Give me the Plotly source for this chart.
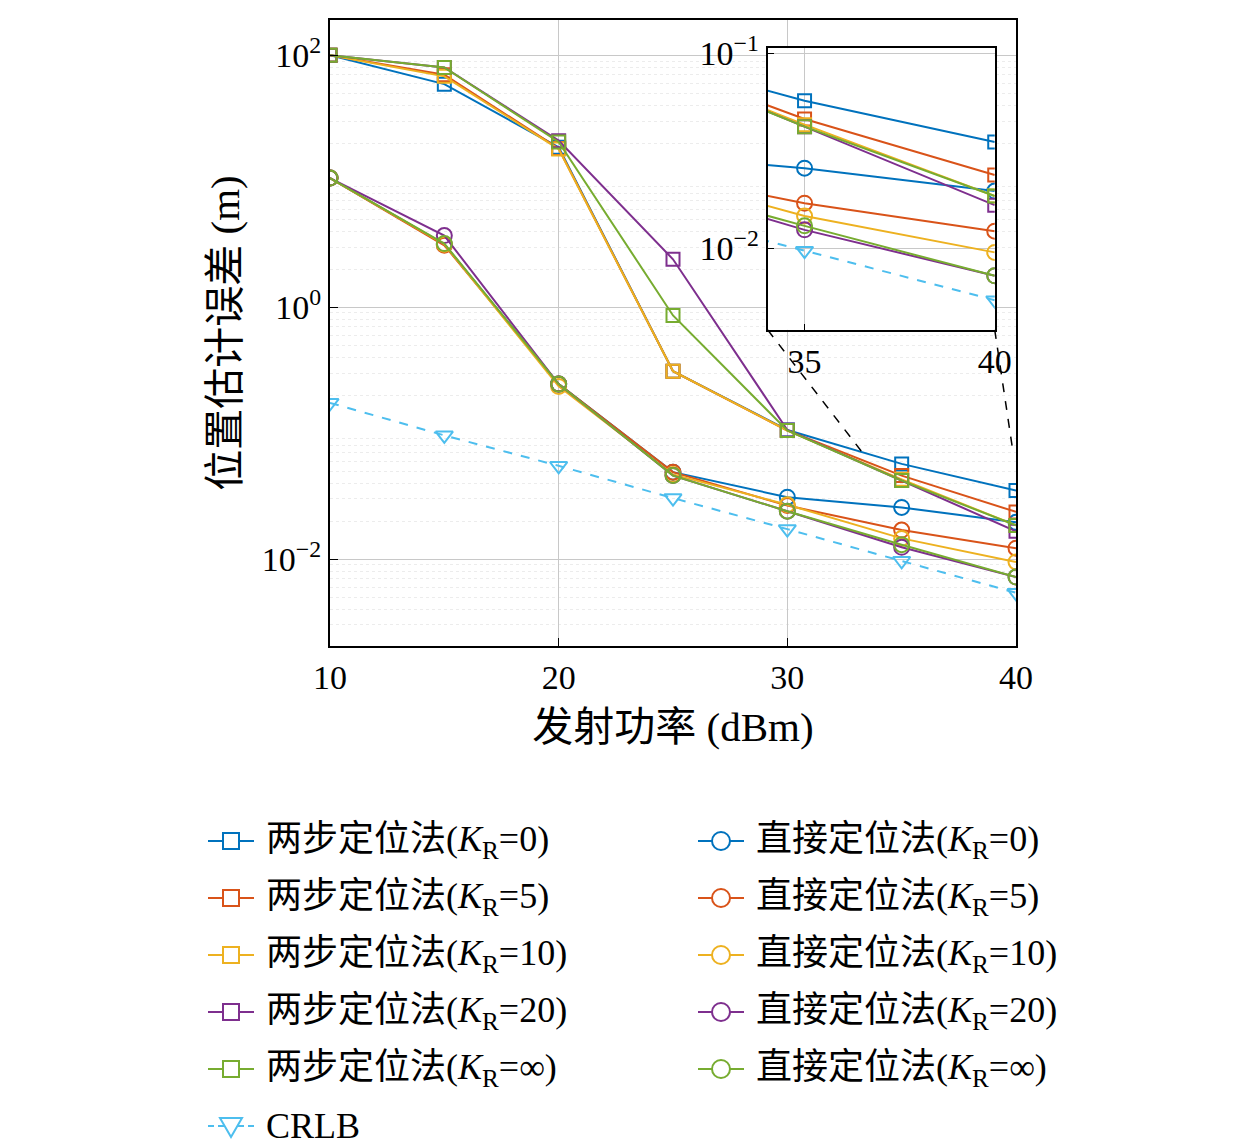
import plotly.graph_objects as go

power = [10, 15, 20, 25, 30, 35, 40]
colors = {"0": "#0072BD", "5": "#D95319", "10": "#EDB120", "20": "#7E2F8E", "∞": "#77AC30"}
crlb_color = "#4DBEEE"

# two-step (squares) and direct (circles) position error, m
two_step = {
    "0": [100, 59, 18.6, 0.31, 0.106, 0.057, 0.035],
    "5": [100, 70, 18.2, 0.31, 0.105, 0.046, 0.0237],
    "10": [100, 68, 18.0, 0.31, 0.105, 0.043, 0.0185],
    "20": [100, 80, 21, 2.4, 0.106, 0.042, 0.0166],
    "∞": [100, 80, 20.5, 0.86, 0.105, 0.042, 0.0185],
}
direct = {
    "0": [10.6, 3.16, 0.245, 0.049, 0.031, 0.0257, 0.0196],
    "5": [10.6, 3.1, 0.245, 0.049, 0.0266, 0.017, 0.0122],
    "10": [10.6, 3.16, 0.235, 0.047, 0.027, 0.0146, 0.0095],
    "20": [10.6, 3.7, 0.245, 0.046, 0.024, 0.0124, 0.0072],
    "∞": [10.6, 3.2, 0.245, 0.046, 0.024, 0.013, 0.0072],
}
crlb = [0.174, 0.096, 0.055, 0.0305, 0.0173, 0.0097, 0.0054]

font = "Liberation Serif, Noto Sans CJK SC"
fig = go.Figure()


def add_series(xa, ya):
    for k in colors:
        for data, sym in [(two_step, "square-open"), (direct, "circle-open")]:
            fig.add_trace(go.Scatter(
                x=power, y=data[k], xaxis=xa, yaxis=ya, mode="lines+markers", showlegend=False,
                line=dict(color=colors[k], width=2),
                marker=dict(symbol=sym, size=15 if sym == "circle-open" else 13, line=dict(width=2, color=colors[k])),
            ))
    fig.add_trace(go.Scatter(
        x=power, y=crlb, xaxis=xa, yaxis=ya, mode="lines+markers", showlegend=False,
        line=dict(color=crlb_color, width=2, dash="dash"),
        marker=dict(symbol="triangle-down-open", size=15, line=dict(width=2, color=crlb_color)),
    ))


add_series("x", "y")
add_series("x2", "y2")

minor_vals = [m * 10.0 ** e for e in range(-3, 3) for m in range(2, 10)]
axis_common = dict(showline=True, linecolor="black", linewidth=2, mirror=True, ticks="inside",
                   tickcolor="black", gridcolor="#c8c8c8", zeroline=False)
fig.update_layout(
    width=1260, height=1139, plot_bgcolor="white", paper_bgcolor="white",
    margin=dict(l=322, r=252, t=12, b=501, autoexpand=False),
    font=dict(family=font, size=34, color="black"),
    showlegend=False,
    xaxis=dict(range=[10, 40], tickvals=[10, 20, 30, 40], title=dict(text="发射功率 (dBm)", standoff=18),
               showgrid=True, ticklen=8, **axis_common),
    yaxis=dict(type="log", range=[-2.69, 2.28], tickvals=[0.01, 1, 100],
               ticktext=["10<sup>−2</sup>", "10<sup>0</sup>", "10<sup>2</sup>"],
               title=dict(text="位置估计误差 (m)", standoff=10), ticklen=8,
               minor=dict(showgrid=True, gridcolor="#ececec", griddash="dot", ticks="", tickvals=minor_vals),
               **axis_common),
    xaxis2=dict(domain=[0.638, 0.969], anchor="y2", range=[34.03, 40], tickvals=[35, 40],
                showgrid=True, ticklen=6, **axis_common),
    yaxis2=dict(domain=[0.505, 0.955], anchor="x2", type="log", range=[-2.42, -0.974],
                tickvals=[0.01, 0.1], ticktext=["10<sup>−2</sup>", "10<sup>−1</sup>"],
                showgrid=True, ticklen=6, **axis_common),
)


def px(x):
    return (x - 322) / 686


def py(y):
    return (638 - y) / 626


# zoom box and connectors
fig.add_shape(type="rect", xref="x", yref="y", x0=33.26, x1=39.87, y0=-2.437, y1=-1.15,
              line=dict(color="black", width=1.5, dash="dash"))
fig.add_shape(type="line", xref="paper", yref="paper", x0=0.638, y0=0.505, x1=px(854), y1=py(444),
              line=dict(color="black", width=1.5, dash="dash"))
fig.add_shape(type="line", xref="paper", yref="paper", x0=0.969, y0=0.505, x1=px(1005), y1=py(444),
              line=dict(color="black", width=1.5, dash="dash"))

# legend drawn below the axes, two columns
entries = []
for i, k in enumerate(colors):
    entries.append((200, 833 + 57 * i, f"两步定位法(<i>K</i><sub>R</sub>={k})", colors[k], "square", "solid"))
    entries.append((690, 833 + 57 * i, f"直接定位法(<i>K</i><sub>R</sub>={k})", colors[k], "circle", "solid"))
entries.append((200, 833 + 57 * 5, "CRLB", crlb_color, "triangle", "dash"))

for x0, y0, label, col, sym, dash in entries:
    fig.add_shape(type="line", xref="paper", yref="paper", x0=px(x0), x1=px(x0 + 46), y0=py(y0), y1=py(y0),
                  line=dict(color=col, width=2, dash=dash if dash == "solid" else "6px,4px"))
    cx, r = x0 + 23, 9
    if sym == "square":
        fig.add_shape(type="rect", xref="paper", yref="paper", x0=px(cx - 8), x1=px(cx + 8),
                      y0=py(y0 + 8), y1=py(y0 - 8), line=dict(color=col, width=2), fillcolor="white")
    elif sym == "circle":
        fig.add_shape(type="circle", xref="paper", yref="paper", x0=px(cx - r), x1=px(cx + r),
                      y0=py(y0 + r), y1=py(y0 - r), line=dict(color=col, width=2), fillcolor="white")
    else:
        path = f"M {px(cx - 11)} {py(y0 - 8)} L {px(cx + 11)} {py(y0 - 8)} L {px(cx)} {py(y0 + 11)} Z"
        fig.add_shape(type="path", xref="paper", yref="paper", path=path,
                      line=dict(color=col, width=2), fillcolor="white")
    fig.add_annotation(x=px(x0 + 56), y=py(y0), xref="paper", yref="paper", text=label, showarrow=False,
                       xanchor="left", yanchor="middle", font=dict(size=36))

fig.write_html("out.html")
